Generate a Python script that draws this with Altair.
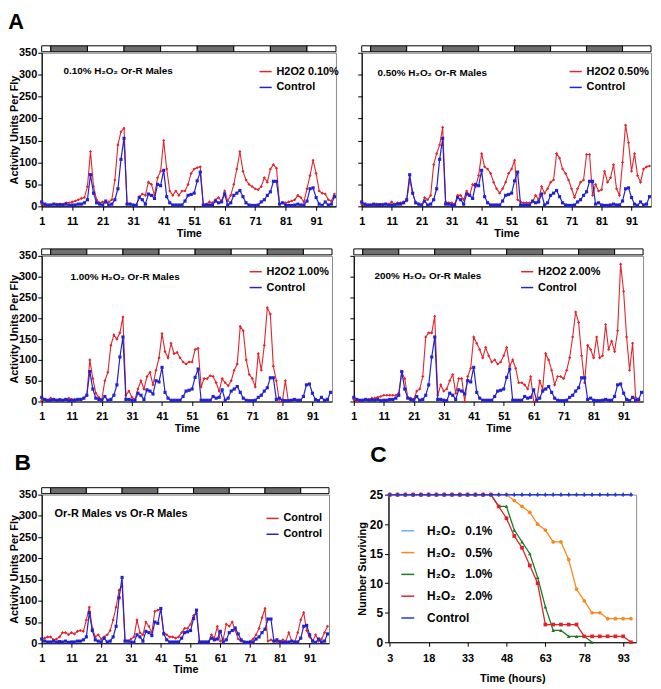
import altair as alt
import pandas as pd

FONT = "Liberation Sans"
NARROW = "Liberation Sans Narrow, Liberation Sans"
RED = "#e2242b"
BLUE = "#2222d0"
DARK = "#6e6e6e"

# ---------------- data ----------------
TIME = list(range(1, 98))
X_TICKS = [1, 11, 21, 31, 41, 51, 61, 71, 81, 91]
Y_TICKS = [0, 50, 100, 150, 200, 250, 300, 350]

PHASE_START = [1, 4, 16, 28, 40, 52, 64, 76, 88]
PHASE_END = [4, 16, 28, 40, 52, 64, 76, 88, 97.5]
PHASE = ["light", "dark", "light", "dark", "light", "dark", "light", "dark", "light"]

CONTROL = [10, 5, 3, 3, 5, 3, 4, 3, 5, 2, 3, 3, 5, 5, 8, 15, 72, 30, 8, 5,
           3, 12, 3, 5, 15, 40, 107, 155, 5, 5, 3, 2, 20, 15, 5, 28, 25, 18, 50, 47,
           82, 22, 8, 3, 3, 3, 3, 12, 25, 27, 30, 58, 78, 3, 3, 3, 3, 12, 8, 10,
           28, 3, 8, 25, 30, 36, 22, 8, 3, 2, 2, 3, 10, 15, 25, 33, 57, 57, 5, 8,
           3, 2, 2, 3, 5, 3, 3, 12, 40, 42, 20, 5, 2, 10, 3, 5, 22]

H2O2_010 = [5, 3, 2, 3, 5, 5, 5, 5, 8, 8, 10, 12, 15, 18, 20, 45, 125, 45, 15, 8,
            10, 8, 10, 15, 60, 140, 170, 178, 5, 5, 3, 3, 22, 28, 25, 55, 50, 25, 65, 80,
            150, 85, 35, 25, 35, 25, 35, 35, 50, 75, 85, 88, 90, 3, 5, 10, 8, 15, 20, 12,
            35, 12, 25, 50, 85, 125, 80, 60, 50, 45, 40, 38, 45, 65, 55, 85, 95, 87, 5, 8,
            8, 10, 12, 15, 25, 20, 10, 40, 70, 105, 75, 35, 30, 28, 15, 12, 28]

H2O2_050 = [5, 3, 3, 3, 3, 5, 3, 5, 5, 5, 10, 5, 8, 8, 10, 12, 60, 30, 8, 5,
            3, 20, 15, 25, 95, 120, 140, 180, 10, 8, 8, 5, 25, 25, 15, 35, 25, 50, 45, 70,
            120, 90, 85, 75, 55, 40, 30, 40, 55, 75, 85, 105, 15, 10, 8, 8, 8, 10, 25, 15,
            45, 30, 40, 55, 60, 120, 110, 85, 75, 60, 40, 20, 40, 55, 60, 118, 118, 25, 50, 35,
            38, 80, 55, 65, 95, 40, 25, 100, 185, 145, 80, 120, 70, 55, 85, 90, 92]

H2O2_100 = [3, 5, 3, 8, 3, 3, 5, 3, 5, 8, 5, 5, 5, 5, 8, 15, 100, 55, 20, 10,
            5, 50, 70, 135, 160, 150, 165, 203, 15, 25, 10, 5, 30, 50, 30, 60, 70, 40, 75, 105,
            163, 120, 105, 140, 115, 118, 105, 95, 90, 95, 95, 125, 128, 35, 55, 55, 62, 60, 45, 25,
            55, 45, 38, 50, 75, 90, 180, 170, 100, 65, 55, 35, 115, 75, 135, 225, 210, 85, 50, 0,
            0, 50, 0, 0]

H2O2_200 = [5, 0, 0, 3, 5, 5, 8, 8, 10, 12, 15, 15, 15, 15, 15, 20, 70, 55, 10, 8,
            5, 25, 30, 60, 155, 165, 165, 205, 15, 40, 25, 30, 50, 65, 20, 55, 55, 0, 60, 80,
            155, 140, 125, 105, 130, 110, 95, 100, 90, 95, 110, 130, 85, 100, 80, 45, 45, 40, 30, 60,
            0, 0, 50, 30, 115, 100, 75, 40, 60, 60, 55, 75, 105, 155, 215, 190, 110, 45, 135, 125,
            105, 155, 105, 110, 185, 125, 145, 120, 170, 330, 265, 155, 75, 140, 10, 0]

CONTROL_B = [10, 12, 15, 15, 8, 10, 15, 25, 25, 20, 25, 22, 28, 30, 28, 55, 85, 35, 15, 20,
             10, 15, 20, 30, 55, 85, 125, 135, 5, 5, 10, 15, 55, 25, 20, 50, 40, 25, 75, 78,
             80, 25, 20, 15, 15, 12, 15, 25, 35, 35, 45, 65, 70, 3, 3, 3, 3, 20, 12, 40,
             5, 10, 45, 40, 50, 30, 10, 5, 3, 3, 5, 10, 20, 35, 60, 82, 5, 8, 5, 3,
             5, 8, 5, 25, 5, 3, 25, 55, 72, 30, 15, 5, 20, 5, 10, 25, 40]

SURV_T = [3, 6, 9, 12, 15, 18, 21, 24, 27, 30, 33, 36, 39, 42, 45, 48,
          51, 54, 57, 60, 63, 66, 69, 72, 75, 78, 81, 84, 87, 90, 93, 96]
SURV_01 = [25, 25, 25, 25, 25, 25, 25, 25, 25, 25, 25, 25, 25, 25, 25, 25,
           25, 25, 25, 25, 25, 25, 25, 25, 25, 25, 25, 25, 25, 25, 25, 25]
SURV_05 = [25, 25, 25, 25, 25, 25, 25, 25, 25, 25, 25, 25, 25, 25, 25, 25,
           24, 23, 22, 20, 19, 17, 17, 14, 9, 7, 5, 5, 4, 4, 4, 4]
SURV_10 = [25, 25, 25, 25, 25, 25, 25, 25, 25, 25, 25, 25, 25, 25, 23, 23,
           19, 17, 15, 11, 6, 2, 2, 1, 1, 1, 0]
SURV_20 = [25, 25, 25, 25, 25, 25, 25, 25, 25, 25, 25, 25, 25, 25, 23, 21,
           18, 16, 13, 10, 3, 3, 3, 3, 3, 1, 1, 1, 1, 1, 1, 0]
SURV_CTRL = [25, 25, 25, 25, 25, 25, 25, 25, 25, 25, 25, 25, 25, 25, 25, 25,
             25, 25, 25, 25, 25, 25, 25, 25, 25, 25, 25, 25, 25, 25, 25, 25]

SURV_LABELS = ["H\u2082O\u2082\u00a0\u00a0 0.1%", "H\u2082O\u2082\u00a0\u00a0 0.5%",
               "H\u2082O\u2082\u00a0\u00a0 1.0%", "H\u2082O\u2082\u00a0\u00a0 2.0%", "Control"]
SURV_COLORS = ["#6cb2f2", "#f7891c", "#1d7a28", "#e0232a", "#2a36d6"]
SURV_SHAPES = ["cross", "circle", "triangle-up", "square", "cross"]

PHASE_DF = pd.DataFrame({"start": PHASE_START, "end": PHASE_END, "phase": PHASE})

AX = dict(grid=False, labelFont=FONT, labelFontWeight="bold", labelColor="black",
          titleFont=FONT, titleFontWeight="bold", titleColor="black",
          domainColor="black", tickColor="black", domainWidth=1.2)


def x_enc(field):
    return alt.X(f"{field}:Q", scale=alt.Scale(domain=[1, 97.5], nice=False, zero=False),
                 axis=alt.Axis(values=X_TICKS, title="Time", tickSize=4, labelPadding=5,
                               titlePadding=1, labelFontSize=11, titleFontSize=11,
                               labelFlush=False, **AX))


def y_enc(show):
    if show:
        ax = alt.Axis(values=Y_TICKS, title="Activity Units Per Fly", tickSize=4, labelPadding=1,
                      titlePadding=-1, labelFontSize=11, titleFontSize=11, **AX)
    else:
        ax = alt.Axis(values=Y_TICKS, title=None, labels=False, tickSize=4, **AX)
    return alt.Y("v:Q", scale=alt.Scale(domain=[0, 350], nice=False), axis=ax)


def indep(ch):
    return ch.resolve_scale(color="independent", fill="independent").resolve_legend(
        color="independent", fill="independent")


def activity(red_vals, blue_vals, red_label, blue_label, text, w, h, show_y,
             lx, ly, tx, ty, tsize=10, tfont=NARROW):
    df = pd.DataFrame({
        "t": TIME[:len(red_vals)] + TIME[:len(blue_vals)],
        "v": red_vals + blue_vals,
        "s": ["r"] * len(red_vals) + ["b"] * len(blue_vals),
    })
    color = alt.Color("s:N", scale=alt.Scale(domain=["r", "b"], range=[RED, BLUE]),
                      legend=alt.Legend(title=None, orient="none", legendX=lx, legendY=ly,
                                        labelExpr=f"datum.value == 'r' ? '{red_label}' : '{blue_label}'",
                                        symbolType="stroke", symbolSize=150, symbolStrokeWidth=1.5,
                                        labelFont=FONT, labelFontSize=11, labelFontWeight="bold",
                                        labelColor="black", rowPadding=4, padding=0, labelOffset=4))
    x = x_enc("t")
    y = y_enc(show_y)
    base = alt.Chart(df)
    red_line = base.mark_line(strokeWidth=1.1).encode(x=x, y=y, color=color).transform_filter(
        alt.datum.s == "r")
    red_pts = base.mark_point(filled=True, size=10, opacity=1, shape="diamond", color=RED).encode(
        x=x, y=y).transform_filter(alt.datum.s == "r")
    blue_line = base.mark_line(strokeWidth=1.2).encode(x=x, y=y, color=color).transform_filter(
        alt.datum.s == "b")
    blue_pts = base.mark_point(filled=True, size=10, opacity=1, shape="square", color=BLUE).encode(
        x=x, y=y).transform_filter(alt.datum.s == "b")
    bar = alt.Chart(PHASE_DF).mark_rect(stroke="black", strokeWidth=1).encode(
        x=x_enc("start"), x2="end:Q", y=alt.value(-7), y2=alt.value(-1),
        fill=alt.Fill("phase:N", scale=alt.Scale(domain=["light", "dark"], range=["white", DARK]),
                      legend=None))
    txt = alt.Chart(pd.DataFrame({"label": [text]})).mark_text(
        align="left", baseline="middle", font=tfont, fontSize=tsize, fontWeight="bold",
        color="black").encode(x=alt.value(tx), y=alt.value(ty), text="label:N")
    return alt.layer(bar, red_line, red_pts, blue_line, blue_pts, txt).properties(width=w, height=h)


H2 = "H\u2082O\u2082"
A1 = activity(H2O2_010, CONTROL, "H2O2 0.10%", "Control", f"0.10% {H2} Or-R Males",
              297, 155, True, 219, 12, 22, 18)
A2 = activity(H2O2_050, CONTROL, "H2O2 0.50%", "Control", f"0.50% {H2} Or-R Males",
              292, 155, False, 209, 12, 16, 20)
A3 = activity(H2O2_100, CONTROL, "H2O2 1.00%", "Control", f"1.00% {H2} Or-R Males",
              293, 147, True, 209, 9, 29, 21)
A4 = activity(H2O2_200, CONTROL, "H2O2 2.00%", "Control", f"200% {H2} Or-R Males",
              292, 147, False, 168, 9, 21, 20)
B = activity(CONTROL_B, CONTROL, "Control", "Control", "Or-R Males vs Or-R Males",
             290, 150, True, 226, 17, 13, 20, tsize=11, tfont=FONT).properties(
    title=alt.Title("B", anchor="start", fontSize=23, font=FONT, fontWeight="bold",
                    color="black", offset=12, dx=6))

# survival panel
rows = []
for lab, vals in zip(SURV_LABELS, [SURV_01, SURV_05, SURV_10, SURV_20, SURV_CTRL]):
    for t, n in zip(SURV_T, vals):
        rows.append({"t": t, "n": n, "s": lab})
sdf = pd.DataFrame(rows)

cx = alt.X("t:Q", scale=alt.Scale(domain=[2.5, 98], nice=False, zero=False),
           axis=alt.Axis(values=[3, 18, 33, 48, 63, 78, 93], title="Time (hours)", tickSize=4,
                         labelPadding=6, titlePadding=10, labelFontSize=11, titleFontSize=11,
                         labelFlush=False, **AX))
cy = alt.Y("n:Q", scale=alt.Scale(domain=[0, 25], nice=False),
           axis=alt.Axis(values=[0, 5, 10, 15, 20, 25], title="Number Surviving", tickSize=4,
                         labelPadding=2, titlePadding=2, labelFontSize=12, titleFontSize=11, **AX))
ccol = alt.Color("s:N", scale=alt.Scale(domain=SURV_LABELS, range=SURV_COLORS),
                 legend=alt.Legend(title=None, orient="none", legendX=12, legendY=29,
                                   symbolType="stroke", symbolSize=170, symbolStrokeWidth=1.5,
                                   labelFont=FONT, labelFontSize=12, labelFontWeight="bold",
                                   labelColor="black", rowPadding=8, padding=0, labelOffset=12))
cbase = alt.Chart(sdf)
c_lines = cbase.mark_line(strokeWidth=1.3).encode(x=cx, y=cy, color=ccol).transform_filter(
    alt.datum.s != "Control")
c_ctrl = cbase.mark_line(strokeWidth=1.3).encode(x=cx, y=cy, color=ccol).transform_filter(
    alt.datum.s == "Control")
c_pts = []
for lab, col, shp in zip(SURV_LABELS, SURV_COLORS, SURV_SHAPES):
    c_pts.append(cbase.mark_point(filled=True, size=14, opacity=1, shape=shp, color=col).encode(
        x=cx, y=cy).transform_filter(alt.datum.s == lab))
C = alt.layer(c_lines, *c_pts[:4], c_ctrl, c_pts[4]).properties(
    width=250, height=149,
    title=alt.Title("C", anchor="start", fontSize=23, font=FONT, fontWeight="bold",
                    color="black", offset=22, dx=14))

row1 = indep(alt.hconcat(A1, A2, spacing=17,
                         title=alt.Title("A", anchor="start", fontSize=22, font=FONT,
                                         fontWeight="bold", color="black", offset=11)))
row2 = indep(alt.hconcat(A3, A4, spacing=15))
row3 = indep(alt.hconcat(B, C, spacing=25))

chart = indep(alt.vconcat(row1, row2, row3, spacing=9)).properties(padding=0).configure_view(
    stroke="#8a8a8a", strokeWidth=1)

chart.save("out.html", embed_options={"renderer": "svg", "actions": False})
